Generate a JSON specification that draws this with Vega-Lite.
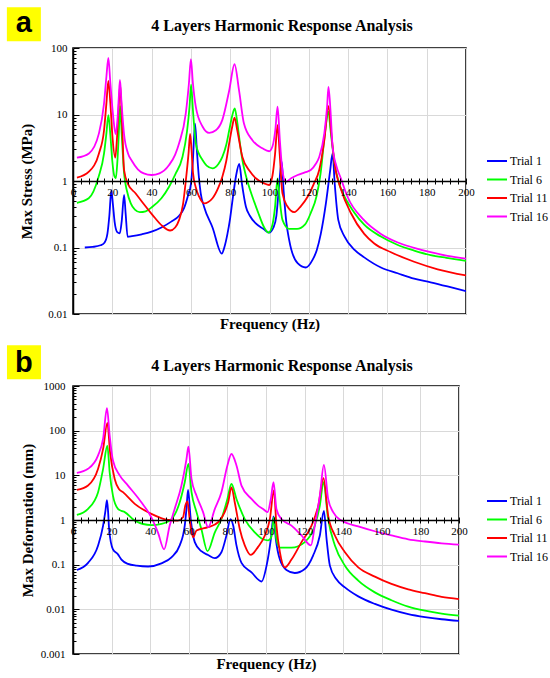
{
  "$schema": "https://vega.github.io/schema/vega-lite/v6.json",
  "padding": {"left": 6, "top": 6, "right": 0, "bottom": 0},
  "config": {
    "view": {"stroke": "black", "strokeWidth": 1.5},
    "font": "Liberation Serif",
    "axis": {"labelFont": "Liberation Serif", "labelColor": "black", "titleFont": "Liberation Serif", "titleColor": "black", "tickColor": "black", "domainColor": "black"}
  },
  "datasets": {
    "stress": [
      {"trial":"Trial 1","freq":6,"val":0.1},{"trial":"Trial 1","freq":10,"val":0.102},{"trial":"Trial 1","freq":14,"val":0.108},{"trial":"Trial 1","freq":16,"val":0.118},{"trial":"Trial 1","freq":17.5,"val":0.16},{"trial":"Trial 1","freq":18.5,"val":0.3},{"trial":"Trial 1","freq":19.5,"val":0.72},{"trial":"Trial 1","freq":20.3,"val":0.45},{"trial":"Trial 1","freq":21.2,"val":0.24},{"trial":"Trial 1","freq":22.5,"val":0.17},{"trial":"Trial 1","freq":23.8,"val":0.163},{"trial":"Trial 1","freq":24.8,"val":0.25},{"trial":"Trial 1","freq":26,"val":0.62},{"trial":"Trial 1","freq":26.8,"val":0.32},{"trial":"Trial 1","freq":27.8,"val":0.145},{"trial":"Trial 1","freq":30,"val":0.148},{"trial":"Trial 1","freq":35,"val":0.158},{"trial":"Trial 1","freq":40,"val":0.173},{"trial":"Trial 1","freq":45,"val":0.2},{"trial":"Trial 1","freq":50,"val":0.245},{"trial":"Trial 1","freq":54,"val":0.3},{"trial":"Trial 1","freq":56.5,"val":0.39},{"trial":"Trial 1","freq":58.5,"val":0.6},{"trial":"Trial 1","freq":60,"val":0.9},{"trial":"Trial 1","freq":61,"val":2},{"trial":"Trial 1","freq":62.1,"val":7.3},{"trial":"Trial 1","freq":63,"val":3},{"trial":"Trial 1","freq":64,"val":1.2},{"trial":"Trial 1","freq":65,"val":0.65},{"trial":"Trial 1","freq":66.7,"val":0.41},{"trial":"Trial 1","freq":71,"val":0.2},{"trial":"Trial 1","freq":75.7,"val":0.081},{"trial":"Trial 1","freq":77,"val":0.1},{"trial":"Trial 1","freq":78.6,"val":0.16},{"trial":"Trial 1","freq":80,"val":0.28},{"trial":"Trial 1","freq":81.2,"val":0.52},{"trial":"Trial 1","freq":82.9,"val":1.16},{"trial":"Trial 1","freq":84.6,"val":1.8},{"trial":"Trial 1","freq":86,"val":0.9},{"trial":"Trial 1","freq":88,"val":0.41},{"trial":"Trial 1","freq":90,"val":0.3},{"trial":"Trial 1","freq":93,"val":0.23},{"trial":"Trial 1","freq":97,"val":0.19},{"trial":"Trial 1","freq":99.8,"val":0.167},{"trial":"Trial 1","freq":102,"val":0.2},{"trial":"Trial 1","freq":103.5,"val":0.3},{"trial":"Trial 1","freq":104.8,"val":0.8},{"trial":"Trial 1","freq":106.2,"val":1.95},{"trial":"Trial 1","freq":107.2,"val":0.7},{"trial":"Trial 1","freq":108.5,"val":0.25},{"trial":"Trial 1","freq":110,"val":0.13},{"trial":"Trial 1","freq":114.3,"val":0.058},{"trial":"Trial 1","freq":118.5,"val":0.05},{"trial":"Trial 1","freq":121.9,"val":0.065},{"trial":"Trial 1","freq":124,"val":0.09},{"trial":"Trial 1","freq":126.1,"val":0.16},{"trial":"Trial 1","freq":128.7,"val":0.46},{"trial":"Trial 1","freq":130.9,"val":1.46},{"trial":"Trial 1","freq":132.1,"val":2.6},{"trial":"Trial 1","freq":133.2,"val":0.9},{"trial":"Trial 1","freq":135,"val":0.26},{"trial":"Trial 1","freq":138.2,"val":0.146},{"trial":"Trial 1","freq":143.3,"val":0.092},{"trial":"Trial 1","freq":148.2,"val":0.071},{"trial":"Trial 1","freq":156.7,"val":0.05},{"trial":"Trial 1","freq":165.2,"val":0.041},{"trial":"Trial 1","freq":173.6,"val":0.034},{"trial":"Trial 1","freq":182,"val":0.03},{"trial":"Trial 1","freq":190.6,"val":0.026},{"trial":"Trial 1","freq":200,"val":0.022},
      {"trial":"Trial 6","freq":2,"val":0.47},{"trial":"Trial 6","freq":8,"val":0.55},{"trial":"Trial 6","freq":13,"val":1.15},{"trial":"Trial 6","freq":15.8,"val":2.6},{"trial":"Trial 6","freq":17,"val":5.2},{"trial":"Trial 6","freq":18,"val":9.8},{"trial":"Trial 6","freq":19,"val":5},{"trial":"Trial 6","freq":20,"val":2},{"trial":"Trial 6","freq":21,"val":1.2},{"trial":"Trial 6","freq":21.8,"val":1.1},{"trial":"Trial 6","freq":22.6,"val":2},{"trial":"Trial 6","freq":23.3,"val":5},{"trial":"Trial 6","freq":24,"val":13.4},{"trial":"Trial 6","freq":24.8,"val":5},{"trial":"Trial 6","freq":26,"val":1.3},{"trial":"Trial 6","freq":27.5,"val":0.7},{"trial":"Trial 6","freq":29.4,"val":0.46},{"trial":"Trial 6","freq":31.5,"val":0.37},{"trial":"Trial 6","freq":34,"val":0.34},{"trial":"Trial 6","freq":37,"val":0.35},{"trial":"Trial 6","freq":40.4,"val":0.41},{"trial":"Trial 6","freq":45,"val":0.55},{"trial":"Trial 6","freq":48.9,"val":0.82},{"trial":"Trial 6","freq":52,"val":1.25},{"trial":"Trial 6","freq":55.7,"val":2.3},{"trial":"Trial 6","freq":58,"val":5.5},{"trial":"Trial 6","freq":59.3,"val":13},{"trial":"Trial 6","freq":60.1,"val":28},{"trial":"Trial 6","freq":61,"val":12},{"trial":"Trial 6","freq":62.5,"val":3.7},{"trial":"Trial 6","freq":64,"val":2.6},{"trial":"Trial 6","freq":65.9,"val":2.07},{"trial":"Trial 6","freq":68,"val":1.7},{"trial":"Trial 6","freq":71,"val":1.55},{"trial":"Trial 6","freq":74,"val":1.8},{"trial":"Trial 6","freq":76,"val":2.3},{"trial":"Trial 6","freq":78,"val":3.5},{"trial":"Trial 6","freq":79.5,"val":5.8},{"trial":"Trial 6","freq":81,"val":9.5},{"trial":"Trial 6","freq":82.3,"val":12.4},{"trial":"Trial 6","freq":83.5,"val":8},{"trial":"Trial 6","freq":84.8,"val":4},{"trial":"Trial 6","freq":86.2,"val":2.07},{"trial":"Trial 6","freq":88,"val":1.2},{"trial":"Trial 6","freq":91.3,"val":0.58},{"trial":"Trial 6","freq":94,"val":0.35},{"trial":"Trial 6","freq":97.3,"val":0.2},{"trial":"Trial 6","freq":99.5,"val":0.167},{"trial":"Trial 6","freq":101.5,"val":0.22},{"trial":"Trial 6","freq":102.8,"val":0.4},{"trial":"Trial 6","freq":104.1,"val":1.09},{"trial":"Trial 6","freq":105,"val":0.6},{"trial":"Trial 6","freq":106.6,"val":0.26},{"trial":"Trial 6","freq":110,"val":0.19},{"trial":"Trial 6","freq":114,"val":0.19},{"trial":"Trial 6","freq":118,"val":0.22},{"trial":"Trial 6","freq":121,"val":0.33},{"trial":"Trial 6","freq":124,"val":0.6},{"trial":"Trial 6","freq":126,"val":1.3},{"trial":"Trial 6","freq":128.2,"val":5.2},{"trial":"Trial 6","freq":130,"val":11},{"trial":"Trial 6","freq":131,"val":6},{"trial":"Trial 6","freq":133.1,"val":1.84},{"trial":"Trial 6","freq":135.5,"val":0.9},{"trial":"Trial 6","freq":138.2,"val":0.58},{"trial":"Trial 6","freq":143,"val":0.34},{"trial":"Trial 6","freq":148.2,"val":0.22},{"trial":"Trial 6","freq":156.7,"val":0.146},{"trial":"Trial 6","freq":165,"val":0.11},{"trial":"Trial 6","freq":173.6,"val":0.09},{"trial":"Trial 6","freq":182,"val":0.077},{"trial":"Trial 6","freq":190,"val":0.07},{"trial":"Trial 6","freq":200,"val":0.063},
      {"trial":"Trial 11","freq":2,"val":1.12},{"trial":"Trial 11","freq":8.1,"val":1.38},{"trial":"Trial 11","freq":13.2,"val":2.6},{"trial":"Trial 11","freq":15.8,"val":5.8},{"trial":"Trial 11","freq":17,"val":14.7},{"trial":"Trial 11","freq":18,"val":32},{"trial":"Trial 11","freq":19,"val":15},{"trial":"Trial 11","freq":20,"val":5},{"trial":"Trial 11","freq":21.5,"val":2.24},{"trial":"Trial 11","freq":22.5,"val":5},{"trial":"Trial 11","freq":23.2,"val":12},{"trial":"Trial 11","freq":24,"val":28},{"trial":"Trial 11","freq":24.8,"val":10},{"trial":"Trial 11","freq":26,"val":1.46},{"trial":"Trial 11","freq":28,"val":0.9},{"trial":"Trial 11","freq":31.9,"val":0.65},{"trial":"Trial 11","freq":36,"val":0.45},{"trial":"Trial 11","freq":40.4,"val":0.31},{"trial":"Trial 11","freq":45.5,"val":0.21},{"trial":"Trial 11","freq":49.4,"val":0.18},{"trial":"Trial 11","freq":52,"val":0.2},{"trial":"Trial 11","freq":54,"val":0.26},{"trial":"Trial 11","freq":56,"val":0.45},{"trial":"Trial 11","freq":57.4,"val":1.0},{"trial":"Trial 11","freq":58.8,"val":2.6},{"trial":"Trial 11","freq":59.6,"val":5.1},{"trial":"Trial 11","freq":60.3,"val":3},{"trial":"Trial 11","freq":61.1,"val":1.3},{"trial":"Trial 11","freq":62.5,"val":0.8},{"trial":"Trial 11","freq":64.2,"val":0.58},{"trial":"Trial 11","freq":66.7,"val":0.46},{"trial":"Trial 11","freq":71,"val":0.55},{"trial":"Trial 11","freq":74,"val":0.8},{"trial":"Trial 11","freq":76,"val":1.16},{"trial":"Trial 11","freq":78,"val":2},{"trial":"Trial 11","freq":79.5,"val":3.7},{"trial":"Trial 11","freq":81,"val":6.5},{"trial":"Trial 11","freq":82.2,"val":9},{"trial":"Trial 11","freq":83.5,"val":6},{"trial":"Trial 11","freq":86.2,"val":2.3},{"trial":"Trial 11","freq":90,"val":1.4},{"trial":"Trial 11","freq":93,"val":1.1},{"trial":"Trial 11","freq":97.3,"val":0.92},{"trial":"Trial 11","freq":99.8,"val":0.87},{"trial":"Trial 11","freq":101.5,"val":1.2},{"trial":"Trial 11","freq":102.8,"val":2.5},{"trial":"Trial 11","freq":104.1,"val":6.9},{"trial":"Trial 11","freq":105.2,"val":2.5},{"trial":"Trial 11","freq":106.6,"val":0.65},{"trial":"Trial 11","freq":109,"val":0.42},{"trial":"Trial 11","freq":112.6,"val":0.34},{"trial":"Trial 11","freq":116,"val":0.42},{"trial":"Trial 11","freq":119.4,"val":0.58},{"trial":"Trial 11","freq":122.5,"val":0.9},{"trial":"Trial 11","freq":125.3,"val":1.46},{"trial":"Trial 11","freq":127.9,"val":4.1},{"trial":"Trial 11","freq":130,"val":13.4},{"trial":"Trial 11","freq":131.5,"val":5},{"trial":"Trial 11","freq":133.1,"val":1.84},{"trial":"Trial 11","freq":136.5,"val":0.73},{"trial":"Trial 11","freq":141.4,"val":0.33},{"trial":"Trial 11","freq":148.2,"val":0.16},{"trial":"Trial 11","freq":153.3,"val":0.115},{"trial":"Trial 11","freq":161.8,"val":0.085},{"trial":"Trial 11","freq":173.6,"val":0.061},{"trial":"Trial 11","freq":185.6,"val":0.047},{"trial":"Trial 11","freq":200,"val":0.038},
      {"trial":"Trial 16","freq":2,"val":2.24},{"trial":"Trial 16","freq":8.1,"val":2.6},{"trial":"Trial 16","freq":13.2,"val":5.2},{"trial":"Trial 16","freq":15.8,"val":14.7},{"trial":"Trial 16","freq":17,"val":37},{"trial":"Trial 16","freq":18,"val":71},{"trial":"Trial 16","freq":19,"val":30},{"trial":"Trial 16","freq":20.5,"val":9},{"trial":"Trial 16","freq":21.7,"val":5.07},{"trial":"Trial 16","freq":22.7,"val":9},{"trial":"Trial 16","freq":23.3,"val":18},{"trial":"Trial 16","freq":23.9,"val":33},{"trial":"Trial 16","freq":24.7,"val":15},{"trial":"Trial 16","freq":26,"val":5},{"trial":"Trial 16","freq":28,"val":2.6},{"trial":"Trial 16","freq":30,"val":2.0},{"trial":"Trial 16","freq":33,"val":1.5},{"trial":"Trial 16","freq":36,"val":1.3},{"trial":"Trial 16","freq":40,"val":1.23},{"trial":"Trial 16","freq":44,"val":1.3},{"trial":"Trial 16","freq":48.9,"val":1.74},{"trial":"Trial 16","freq":52,"val":2.5},{"trial":"Trial 16","freq":54,"val":3.7},{"trial":"Trial 16","freq":57.4,"val":10.4},{"trial":"Trial 16","freq":59,"val":29.5},{"trial":"Trial 16","freq":60,"val":68},{"trial":"Trial 16","freq":61,"val":30},{"trial":"Trial 16","freq":62.5,"val":13},{"trial":"Trial 16","freq":65.9,"val":6.6},{"trial":"Trial 16","freq":69.3,"val":5.3},{"trial":"Trial 16","freq":72.7,"val":5.8},{"trial":"Trial 16","freq":76,"val":8.3},{"trial":"Trial 16","freq":79.5,"val":23},{"trial":"Trial 16","freq":82.2,"val":57},{"trial":"Trial 16","freq":84.5,"val":23},{"trial":"Trial 16","freq":87,"val":7.3},{"trial":"Trial 16","freq":91.3,"val":4.1},{"trial":"Trial 16","freq":96.4,"val":3.1},{"trial":"Trial 16","freq":99.8,"val":2.8},{"trial":"Trial 16","freq":101.5,"val":3.3},{"trial":"Trial 16","freq":103,"val":6},{"trial":"Trial 16","freq":104.1,"val":13.1},{"trial":"Trial 16","freq":105.3,"val":4},{"trial":"Trial 16","freq":106.5,"val":1.5},{"trial":"Trial 16","freq":108.3,"val":0.97},{"trial":"Trial 16","freq":111,"val":1.1},{"trial":"Trial 16","freq":114.3,"val":1.23},{"trial":"Trial 16","freq":118,"val":1.35},{"trial":"Trial 16","freq":121,"val":1.46},{"trial":"Trial 16","freq":123.5,"val":1.8},{"trial":"Trial 16","freq":125.3,"val":2.3},{"trial":"Trial 16","freq":127.9,"val":5.2},{"trial":"Trial 16","freq":129.3,"val":13},{"trial":"Trial 16","freq":130,"val":26},{"trial":"Trial 16","freq":131,"val":12},{"trial":"Trial 16","freq":132.1,"val":3.3},{"trial":"Trial 16","freq":134,"val":1.7},{"trial":"Trial 16","freq":136.3,"val":1.1},{"trial":"Trial 16","freq":139.7,"val":0.58},{"trial":"Trial 16","freq":148,"val":0.26},{"trial":"Trial 16","freq":156.7,"val":0.16},{"trial":"Trial 16","freq":165,"val":0.12},{"trial":"Trial 16","freq":173.6,"val":0.099},{"trial":"Trial 16","freq":182,"val":0.085},{"trial":"Trial 16","freq":190.6,"val":0.075},{"trial":"Trial 16","freq":200,"val":0.068}
    ],
    "deform": [
      {"trial":"Trial 1","freq":2,"val":0.076},{"trial":"Trial 1","freq":7.8,"val":0.11},{"trial":"Trial 1","freq":13,"val":0.27},{"trial":"Trial 1","freq":15.6,"val":0.75},{"trial":"Trial 1","freq":16.8,"val":1.6},{"trial":"Trial 1","freq":17.6,"val":2.8},{"trial":"Trial 1","freq":18.2,"val":1.5},{"trial":"Trial 1","freq":18.7,"val":0.63},{"trial":"Trial 1","freq":20.7,"val":0.22},{"trial":"Trial 1","freq":23.3,"val":0.17},{"trial":"Trial 1","freq":25.1,"val":0.13},{"trial":"Trial 1","freq":28.5,"val":0.104},{"trial":"Trial 1","freq":33,"val":0.095},{"trial":"Trial 1","freq":38.9,"val":0.091},{"trial":"Trial 1","freq":45.8,"val":0.107},{"trial":"Trial 1","freq":51,"val":0.146},{"trial":"Trial 1","freq":55.3,"val":0.27},{"trial":"Trial 1","freq":57.9,"val":0.75},{"trial":"Trial 1","freq":58.8,"val":1.8},{"trial":"Trial 1","freq":59.6,"val":4.7},{"trial":"Trial 1","freq":61,"val":1.05},{"trial":"Trial 1","freq":63.1,"val":0.32},{"trial":"Trial 1","freq":66.5,"val":0.2},{"trial":"Trial 1","freq":70,"val":0.165},{"trial":"Trial 1","freq":73.5,"val":0.14},{"trial":"Trial 1","freq":76.9,"val":0.19},{"trial":"Trial 1","freq":79.5,"val":0.45},{"trial":"Trial 1","freq":81.6,"val":1.05},{"trial":"Trial 1","freq":83,"val":0.75},{"trial":"Trial 1","freq":84.7,"val":0.27},{"trial":"Trial 1","freq":87.3,"val":0.11},{"trial":"Trial 1","freq":92.5,"val":0.067},{"trial":"Trial 1","freq":97.7,"val":0.042},{"trial":"Trial 1","freq":100.3,"val":0.095},{"trial":"Trial 1","freq":102.5,"val":0.37},{"trial":"Trial 1","freq":103.9,"val":1.2},{"trial":"Trial 1","freq":105.1,"val":0.37},{"trial":"Trial 1","freq":107.2,"val":0.13},{"trial":"Trial 1","freq":110.6,"val":0.076},{"trial":"Trial 1","freq":114.9,"val":0.065},{"trial":"Trial 1","freq":120.1,"val":0.08},{"trial":"Trial 1","freq":124.4,"val":0.16},{"trial":"Trial 1","freq":127.9,"val":0.45},{"trial":"Trial 1","freq":130,"val":1.6},{"trial":"Trial 1","freq":131.4,"val":0.37},{"trial":"Trial 1","freq":133.1,"val":0.095},{"trial":"Trial 1","freq":136.5,"val":0.047},{"trial":"Trial 1","freq":140.9,"val":0.031},{"trial":"Trial 1","freq":147.8,"val":0.0195},{"trial":"Trial 1","freq":156.4,"val":0.0132},{"trial":"Trial 1","freq":165,"val":0.0098},{"trial":"Trial 1","freq":173.7,"val":0.0078},{"trial":"Trial 1","freq":182.4,"val":0.0067},{"trial":"Trial 1","freq":191,"val":0.006},{"trial":"Trial 1","freq":200,"val":0.0055},
      {"trial":"Trial 6","freq":2,"val":1.3},{"trial":"Trial 6","freq":7.8,"val":1.78},{"trial":"Trial 6","freq":13,"val":4.2},{"trial":"Trial 6","freq":15.6,"val":14},{"trial":"Trial 6","freq":17.8,"val":46},{"trial":"Trial 6","freq":19,"val":11.7},{"trial":"Trial 6","freq":20.7,"val":3.5},{"trial":"Trial 6","freq":23.3,"val":1.77},{"trial":"Trial 6","freq":25.1,"val":1.6},{"trial":"Trial 6","freq":26.8,"val":1.5},{"trial":"Trial 6","freq":32,"val":0.97},{"trial":"Trial 6","freq":40.6,"val":0.77},{"trial":"Trial 6","freq":45.8,"val":0.82},{"trial":"Trial 6","freq":51,"val":1.05},{"trial":"Trial 6","freq":55.3,"val":2.5},{"trial":"Trial 6","freq":57.9,"val":7},{"trial":"Trial 6","freq":59.8,"val":18},{"trial":"Trial 6","freq":61.4,"val":4.2},{"trial":"Trial 6","freq":64,"val":1.5},{"trial":"Trial 6","freq":66.5,"val":0.63},{"trial":"Trial 6","freq":69.7,"val":0.2},{"trial":"Trial 6","freq":73.5,"val":0.53},{"trial":"Trial 6","freq":76.9,"val":1.05},{"trial":"Trial 6","freq":80,"val":2.96},{"trial":"Trial 6","freq":82.1,"val":6.4},{"trial":"Trial 6","freq":84.7,"val":2.96},{"trial":"Trial 6","freq":89,"val":1.05},{"trial":"Trial 6","freq":94.2,"val":0.53},{"trial":"Trial 6","freq":98.5,"val":0.37},{"trial":"Trial 6","freq":101,"val":0.35},{"trial":"Trial 6","freq":102.8,"val":0.42},{"trial":"Trial 6","freq":104.1,"val":1.15},{"trial":"Trial 6","freq":105.4,"val":0.37},{"trial":"Trial 6","freq":107.2,"val":0.24},{"trial":"Trial 6","freq":113.2,"val":0.24},{"trial":"Trial 6","freq":120.1,"val":0.32},{"trial":"Trial 6","freq":125.3,"val":0.75},{"trial":"Trial 6","freq":127.9,"val":2.1},{"trial":"Trial 6","freq":129.8,"val":7.0},{"trial":"Trial 6","freq":132.2,"val":1.05},{"trial":"Trial 6","freq":135.7,"val":0.27},{"trial":"Trial 6","freq":140.9,"val":0.095},{"trial":"Trial 6","freq":147.8,"val":0.044},{"trial":"Trial 6","freq":156.4,"val":0.024},{"trial":"Trial 6","freq":165,"val":0.016},{"trial":"Trial 6","freq":173.7,"val":0.0115},{"trial":"Trial 6","freq":182.4,"val":0.0093},{"trial":"Trial 6","freq":191,"val":0.008},{"trial":"Trial 6","freq":200,"val":0.0072},
      {"trial":"Trial 11","freq":2,"val":4.7},{"trial":"Trial 11","freq":7.8,"val":5.9},{"trial":"Trial 11","freq":13,"val":14},{"trial":"Trial 11","freq":15.6,"val":39},{"trial":"Trial 11","freq":17.8,"val":150},{"trial":"Trial 11","freq":19.2,"val":33},{"trial":"Trial 11","freq":21.6,"val":8.3},{"trial":"Trial 11","freq":23.7,"val":5},{"trial":"Trial 11","freq":25.9,"val":4.2},{"trial":"Trial 11","freq":32,"val":2.3},{"trial":"Trial 11","freq":40.6,"val":1.37},{"trial":"Trial 11","freq":49.3,"val":1.0},{"trial":"Trial 11","freq":54.4,"val":0.97},{"trial":"Trial 11","freq":57,"val":1.15},{"trial":"Trial 11","freq":58.2,"val":2.1},{"trial":"Trial 11","freq":59.3,"val":2.6},{"trial":"Trial 11","freq":60.5,"val":1.0},{"trial":"Trial 11","freq":62.2,"val":0.41},{"trial":"Trial 11","freq":64,"val":0.58},{"trial":"Trial 11","freq":70,"val":0.69},{"trial":"Trial 11","freq":75.2,"val":0.89},{"trial":"Trial 11","freq":78.6,"val":1.5},{"trial":"Trial 11","freq":80.4,"val":2.5},{"trial":"Trial 11","freq":82.1,"val":5.4},{"trial":"Trial 11","freq":83.8,"val":2.5},{"trial":"Trial 11","freq":86.4,"val":0.63},{"trial":"Trial 11","freq":89,"val":0.27},{"trial":"Trial 11","freq":92.1,"val":0.165},{"trial":"Trial 11","freq":95.9,"val":0.25},{"trial":"Trial 11","freq":99.4,"val":0.45},{"trial":"Trial 11","freq":102,"val":1.05},{"trial":"Trial 11","freq":104.1,"val":4.6},{"trial":"Trial 11","freq":105.4,"val":0.75},{"trial":"Trial 11","freq":107.2,"val":0.19},{"trial":"Trial 11","freq":109.8,"val":0.087},{"trial":"Trial 11","freq":113.2,"val":0.13},{"trial":"Trial 11","freq":118.4,"val":0.32},{"trial":"Trial 11","freq":123.6,"val":0.75},{"trial":"Trial 11","freq":127.1,"val":2.1},{"trial":"Trial 11","freq":129.8,"val":8.6},{"trial":"Trial 11","freq":132.2,"val":1.25},{"trial":"Trial 11","freq":135.7,"val":0.45},{"trial":"Trial 11","freq":140.9,"val":0.19},{"trial":"Trial 11","freq":147.8,"val":0.087},{"trial":"Trial 11","freq":156.4,"val":0.054},{"trial":"Trial 11","freq":165,"val":0.037},{"trial":"Trial 11","freq":173.7,"val":0.028},{"trial":"Trial 11","freq":182.4,"val":0.023},{"trial":"Trial 11","freq":191,"val":0.019},{"trial":"Trial 11","freq":200,"val":0.017},
      {"trial":"Trial 16","freq":2,"val":11.3},{"trial":"Trial 16","freq":7.8,"val":14},{"trial":"Trial 16","freq":13,"val":28},{"trial":"Trial 16","freq":15.6,"val":66},{"trial":"Trial 16","freq":17.6,"val":320},{"trial":"Trial 16","freq":19,"val":78},{"trial":"Trial 16","freq":20.7,"val":21.5},{"trial":"Trial 16","freq":24.2,"val":10},{"trial":"Trial 16","freq":28.5,"val":5.9},{"trial":"Trial 16","freq":35.4,"val":2.5},{"trial":"Trial 16","freq":40.6,"val":1.15},{"trial":"Trial 16","freq":44,"val":0.53},{"trial":"Trial 16","freq":47.2,"val":0.22},{"trial":"Trial 16","freq":50.1,"val":0.75},{"trial":"Trial 16","freq":52.7,"val":1.78},{"trial":"Trial 16","freq":56.2,"val":5.9},{"trial":"Trial 16","freq":58.8,"val":23},{"trial":"Trial 16","freq":59.8,"val":44},{"trial":"Trial 16","freq":61.4,"val":8.3},{"trial":"Trial 16","freq":64,"val":3.5},{"trial":"Trial 16","freq":67.4,"val":1.5},{"trial":"Trial 16","freq":70,"val":0.69},{"trial":"Trial 16","freq":73.5,"val":1.77},{"trial":"Trial 16","freq":76.9,"val":4.2},{"trial":"Trial 16","freq":80,"val":16.6},{"trial":"Trial 16","freq":82.1,"val":30},{"trial":"Trial 16","freq":84.7,"val":16.6},{"trial":"Trial 16","freq":87.3,"val":5.9},{"trial":"Trial 16","freq":92.5,"val":2.96},{"trial":"Trial 16","freq":95.9,"val":2.1},{"trial":"Trial 16","freq":98.5,"val":1.77},{"trial":"Trial 16","freq":100.8,"val":1.5},{"trial":"Trial 16","freq":102.5,"val":2.96},{"trial":"Trial 16","freq":103.9,"val":7.0},{"trial":"Trial 16","freq":105.4,"val":1.77},{"trial":"Trial 16","freq":108,"val":1.05},{"trial":"Trial 16","freq":113.2,"val":0.75},{"trial":"Trial 16","freq":118.4,"val":0.45},{"trial":"Trial 16","freq":123.3,"val":0.27},{"trial":"Trial 16","freq":125.3,"val":0.75},{"trial":"Trial 16","freq":127.9,"val":3.5},{"trial":"Trial 16","freq":130,"val":17.1},{"trial":"Trial 16","freq":132.2,"val":2.96},{"trial":"Trial 16","freq":134.8,"val":1.5},{"trial":"Trial 16","freq":139.1,"val":0.97},{"trial":"Trial 16","freq":147.8,"val":0.72},{"trial":"Trial 16","freq":156.4,"val":0.56},{"trial":"Trial 16","freq":165,"val":0.45},{"trial":"Trial 16","freq":173.7,"val":0.37},{"trial":"Trial 16","freq":182.4,"val":0.33},{"trial":"Trial 16","freq":191,"val":0.3},{"trial":"Trial 16","freq":200,"val":0.28}
    ]
  },
  "columns": 1,
  "align": "none",
  "spacing": 12,
  "resolve": {"scale": {"color": "independent"}, "legend": {"color": "independent"}},
  "concat": [
    {
      "width": 393,
      "height": 266,
      "title": {"text": "4 Layers Harmonic Response Analysis", "font": "Liberation Serif", "fontSize": 16, "fontWeight": "bold", "color": "black", "anchor": "middle", "frame": "group", "dx": 12.5, "offset": -27},
      "resolve": {"axis": {"x": "independent", "y": "independent"}},
      "layer": [
        {
          "data": {"values": [{"label": "a"}]},
          "mark": {"type": "point", "shape": "square", "filled": true, "color": "#FFFF00", "opacity": 1, "size": 1156},
          "encoding": {
            "x": {"datum": -25, "type": "quantitative", "scale": {"domain": [0, 200], "nice": false, "zero": false},
              "axis": {"orient": "bottom", "offset": 0, "values": [0,20,40,60,80,100,120,140,160,180,200], "grid": true, "gridColor": "#d9d9d9", "gridWidth": 1, "labels": false, "ticks": false, "domain": false, "title": "Frequency (Hz)", "titleFontSize": 15, "titleFontWeight": "bold", "titlePadding": 2, "zindex": 0}},
            "y": {"datum": 228, "type": "quantitative", "scale": {"type": "log", "domain": [0.01, 100], "nice": false},
              "axis": {"orient": "left", "values": [0.01,0.1,1,10,100], "grid": true, "gridColor": "#d9d9d9", "gridWidth": 1, "labels": false, "ticks": true, "tickSize": -6, "tickWidth": 1, "domain": false, "title": null, "zindex": 0}}
          }
        },
        {
          "data": {"name": "stress"},
          "mark": {"type": "line", "strokeWidth": 1.8, "interpolate": "monotone", "clip": true},
          "encoding": {
            "x": {"field": "freq", "type": "quantitative", "scale": {"domain": [0, 200], "nice": false, "zero": false},
              "axis": {"orient": "bottom", "offset": -133, "values": [0,4,8,12,16,20,24,28,32,36,40,44,48,52,56,60,64,68,72,76,80,84,88,92,96,100,104,108,112,116,120,124,128,132,136,140,144,148,152,156,160,164,168,172,176,180,184,188,192,196,200], "format": "d", "labelExpr": "datum.value % 20 === 0 ? datum.label : ''", "labelFlush": false, "labelOverlap": false, "labelFontSize": 11, "labelPadding": 2, "ticks": true, "tickSize": 3, "tickWidth": 1, "domain": true, "domainWidth": 1.5, "grid": false, "title": null, "zindex": 1}},
            "y": {"field": "val", "type": "quantitative", "scale": {"type": "log", "domain": [0.01, 100], "nice": false},
              "axis": {"orient": "left", "values": [0.01,0.1,1,10,100], "format": "~g", "labelFontSize": 11, "labelPadding": 6, "ticks": false, "domain": true, "domainWidth": 1.5, "grid": false, "title": "Max Stress (MPa)", "titleFontSize": 15, "titleFontWeight": "bold", "titlePadding": 13, "zindex": 1}},
            "color": {"field": "trial", "type": "nominal",
              "scale": {"domain": ["Trial 1", "Trial 6", "Trial 11", "Trial 16"], "range": ["#0000FF", "#00FF00", "#FF0000", "#FF00FF"]},
              "legend": {"orient": "none", "legendX": 413, "legendY": 102, "title": null, "symbolType": "stroke", "symbolStrokeWidth": 2, "symbolSize": 400, "labelFont": "Liberation Serif", "labelFontSize": 12, "labelColor": "black", "rowPadding": 1.5, "labelOffset": 2}}
          }
        },
        {
          "data": {"values": [{"label": "a"}]},
          "mark": {"type": "text", "font": "Liberation Sans", "fontSize": 29, "fontWeight": "bold", "color": "black", "baseline": "alphabetic", "align": "center", "dy": 7.5},
          "encoding": {
            "x": {"datum": -25, "type": "quantitative", "scale": {"domain": [0, 200], "nice": false, "zero": false},
              "axis": {"orient": "bottom", "offset": -133, "values": [0,4,8,12,16,20,24,28,32,36,40,44,48,52,56,60,64,68,72,76,80,84,88,92,96,100,104,108,112,116,120,124,128,132,136,140,144,148,152,156,160,164,168,172,176,180,184,188,192,196,200], "labels": false, "ticks": true, "tickSize": -3, "tickWidth": 1, "domain": false, "grid": false, "title": null, "zindex": 1}},
            "y": {"datum": 228, "type": "quantitative", "scale": {"type": "log", "domain": [0.01, 100], "nice": false},
              "axis": {"orient": "left", "values": [0.02,0.03,0.04,0.05,0.06,0.07,0.08,0.09,0.2,0.3,0.4,0.5,0.6,0.7,0.8,0.9,2,3,4,5,6,7,8,9,20,30,40,50,60,70,80,90], "labels": false, "ticks": true, "tickSize": -3, "tickWidth": 1, "domain": false, "grid": false, "title": null, "zindex": 1}},
            "text": {"field": "label", "type": "nominal"}
          }
        }
      ]
    },
    {
      "width": 386,
      "height": 268,
      "title": {"text": "4 Layers Harmonic Response Analysis", "font": "Liberation Serif", "fontSize": 16, "fontWeight": "bold", "color": "black", "anchor": "middle", "frame": "group", "dx": 16, "offset": -29},
      "resolve": {"axis": {"x": "independent", "y": "independent"}},
      "layer": [
        {
          "data": {"values": [{"label": "b"}]},
          "mark": {"type": "point", "shape": "square", "filled": true, "color": "#FFFF00", "opacity": 1, "size": 1156},
          "encoding": {
            "x": {"datum": -25.4, "type": "quantitative", "scale": {"domain": [0, 200], "nice": false, "zero": false},
              "axis": {"orient": "bottom", "offset": 0, "values": [0,20,40,60,80,100,120,140,160,180,200], "grid": true, "gridColor": "#d9d9d9", "gridWidth": 1, "labels": false, "ticks": false, "domain": false, "title": "Frequency (Hz)", "titleFontSize": 15, "titleFontWeight": "bold", "titlePadding": 2, "zindex": 0}},
            "y": {"datum": 3420, "type": "quantitative", "scale": {"type": "log", "domain": [0.001, 1000], "nice": false},
              "axis": {"orient": "left", "values": [0.001,0.01,0.1,1,10,100,1000], "grid": true, "gridColor": "#d9d9d9", "gridWidth": 1, "labels": false, "ticks": true, "tickSize": -6, "tickWidth": 1, "domain": false, "title": null, "zindex": 0}}
          }
        },
        {
          "data": {"name": "deform"},
          "mark": {"type": "line", "strokeWidth": 1.8, "interpolate": "monotone", "clip": true},
          "encoding": {
            "x": {"field": "freq", "type": "quantitative", "scale": {"domain": [0, 200], "nice": false, "zero": false},
              "axis": {"orient": "bottom", "offset": -134, "values": [0,4,8,12,16,20,24,28,32,36,40,44,48,52,56,60,64,68,72,76,80,84,88,92,96,100,104,108,112,116,120,124,128,132,136,140,144,148,152,156,160,164,168,172,176,180,184,188,192,196,200], "format": "d", "labelExpr": "datum.value % 20 === 0 ? datum.label : ''", "labelFlush": false, "labelOverlap": false, "labelFontSize": 11, "labelPadding": 2, "ticks": true, "tickSize": 3, "tickWidth": 1, "domain": true, "domainWidth": 1.5, "grid": false, "title": null, "zindex": 1}},
            "y": {"field": "val", "type": "quantitative", "scale": {"type": "log", "domain": [0.001, 1000], "nice": false},
              "axis": {"orient": "left", "values": [0.001,0.01,0.1,1,10,100,1000], "format": "~g", "labelFontSize": 11, "labelPadding": 8, "ticks": false, "domain": true, "domainWidth": 1.5, "grid": false, "title": "Max Deformation (mm)", "titleFontSize": 15, "titleFontWeight": "bold", "titlePadding": 5, "zindex": 1}},
            "color": {"field": "trial", "type": "nominal",
              "scale": {"domain": ["Trial 1", "Trial 6", "Trial 11", "Trial 16"], "range": ["#0000FF", "#00FF00", "#FF0000", "#FF00FF"]},
              "legend": {"orient": "none", "legendX": 413, "legendY": 104, "title": null, "symbolType": "stroke", "symbolStrokeWidth": 2, "symbolSize": 400, "labelFont": "Liberation Serif", "labelFontSize": 12, "labelColor": "black", "rowPadding": 1.5, "labelOffset": 2}}
          }
        },
        {
          "data": {"values": [{"label": "b"}]},
          "mark": {"type": "text", "font": "Liberation Sans", "fontSize": 29, "fontWeight": "bold", "color": "black", "baseline": "alphabetic", "align": "center", "dy": 10},
          "encoding": {
            "x": {"datum": -25.4, "type": "quantitative", "scale": {"domain": [0, 200], "nice": false, "zero": false},
              "axis": {"orient": "bottom", "offset": -134, "values": [0,4,8,12,16,20,24,28,32,36,40,44,48,52,56,60,64,68,72,76,80,84,88,92,96,100,104,108,112,116,120,124,128,132,136,140,144,148,152,156,160,164,168,172,176,180,184,188,192,196,200], "labels": false, "ticks": true, "tickSize": -3, "tickWidth": 1, "domain": false, "grid": false, "title": null, "zindex": 1}},
            "y": {"datum": 3420, "type": "quantitative", "scale": {"type": "log", "domain": [0.001, 1000], "nice": false},
              "axis": {"orient": "left", "values": [0.002,0.003,0.004,0.005,0.006,0.007,0.008,0.009,0.02,0.03,0.04,0.05,0.06,0.07,0.08,0.09,0.2,0.3,0.4,0.5,0.6,0.7,0.8,0.9,2,3,4,5,6,7,8,9,20,30,40,50,60,70,80,90,200,300,400,500,600,700,800,900], "labels": false, "ticks": true, "tickSize": -3, "tickWidth": 1, "domain": false, "grid": false, "title": null, "zindex": 1}},
            "text": {"field": "label", "type": "nominal"}
          }
        }
      ]
    }
  ]
}
